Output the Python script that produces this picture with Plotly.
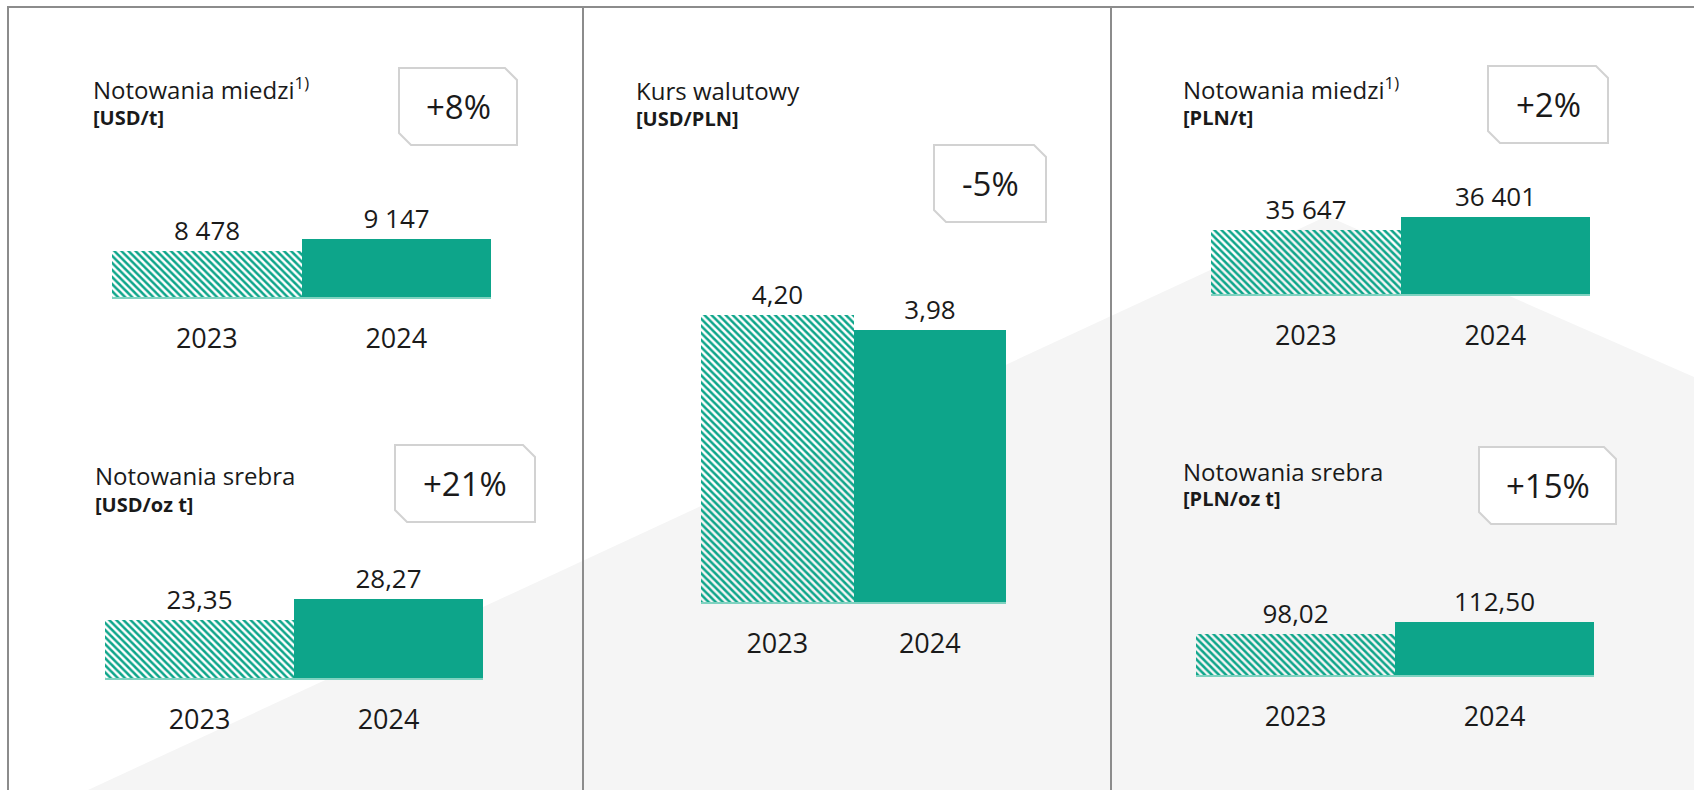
import plotly.graph_objects as go

W, H = 1694, 790

# ---------------- data ----------------
years = ["2023", "2024"]
copper_usd = [8478, 9147]
silver_usd = [23.35, 28.27]
usd_pln = [4.20, 3.98]
copper_pln = [35647, 36401]
silver_pln = [98.02, 112.50]

titles = ["Notowania miedzi<sup>1)</sup>", "Notowania srebra", "Kurs walutowy",
          "Notowania miedzi<sup>1)</sup>", "Notowania srebra"]
units = ["[USD/t]", "[USD/oz t]", "[USD/PLN]", "[PLN/t]", "[PLN/oz t]"]
changes = ["+8%", "+21%", "-5%", "+2%", "+15%"]
decimals = [0, 2, 2, 0, 2]
series = [copper_usd, silver_usd, usd_pln, copper_pln, silver_pln]

TEAL = "#0DA58A"
TXT = "#1a1a1a"
FONT = "Open Sans"


def fmt(v, d):
    if d == 0:
        return f"{v:,.0f}".replace(",", " ")
    return f"{v:.{d}f}".replace(".", ",")


def px(x):
    return x / W


def py(y):
    return 1 - y / H


# layout geometry (pixels): bar area, axis baseline value, scale px/unit, title pos, box
panels = [
    dict(x0=112, x1=491, bottom=297, top=185, k=0.01794, base=5914,
         tx=93, tb=100, ub=126, box=(399, 68, 517, 145)),
    dict(x0=105, x1=483, bottom=678, top=545, k=4.268, base=9.76,
         tx=95, tb=486, ub=513, box=(395, 445, 535, 522)),
    dict(x0=701, x1=1006, bottom=602, top=255, k=68.3, base=0,
         tx=636, tb=101, ub=127, box=(934, 145, 1046, 222)),
    dict(x0=1211, x1=1590, bottom=294, top=170, k=0.01724, base=31935,
         tx=1183, tb=100, ub=126, box=(1488, 66, 1608, 143)),
    dict(x0=1196, x1=1594, bottom=675, top=560, k=0.8287, base=48.5,
         tx=1183, tb=482, ub=507, box=(1479, 447, 1616, 524)),
]

fig = go.Figure()
shapes = []
annotations = []

# background grey "mountain"
shapes.append(dict(
    type="path", xref="paper", yref="paper", layer="below",
    path=f"M {px(88)},{py(790)} L {px(1327)},{py(216)} L {px(1694)},{py(377)} "
         f"L {px(1694)},{py(790)} Z",
    fillcolor="#f5f5f5", line=dict(width=0)))

# frame lines
LINE = dict(color="#8c8c8c", width=2)
shapes.append(dict(type="line", xref="paper", yref="paper", x0=px(7), x1=1,
                   y0=py(7), y1=py(7), line=LINE, layer="below"))
for xx in [8, 583, 1111]:
    shapes.append(dict(type="line", xref="paper", yref="paper", x0=px(xx), x1=px(xx),
                       y0=py(7), y1=0, line=LINE, layer="below"))

for i, (p, vals) in enumerate(zip(panels, series)):
    n = "" if i == 0 else str(i + 1)
    fig.add_trace(go.Bar(
        x=years, y=vals,
        text=[fmt(v, decimals[i]) for v in vals],
        textposition="outside",
        textfont=dict(family=FONT, size=26, color=TXT),
        marker=dict(
            color=[TEAL, TEAL],
            line=dict(width=0),
            pattern=dict(shape=["\\", ""], fgcolor=TEAL, bgcolor="white",
                         fgopacity=1, fillmode="replace",
                         size=5, solidity=0.5),
        ),
        xaxis="x" + n, yaxis="y" + n,
        showlegend=False, hoverinfo="skip",
    ))
    height_px = p["bottom"] - p["top"]
    fig.layout["xaxis" + n] = dict(
        domain=[px(p["x0"]), px(p["x1"])], anchor="y" + n,
        range=[-0.5, 1.5], showgrid=False, zeroline=False,
        showline=True, linecolor="#7fd2c0", linewidth=1.5,
        ticks="", ticklabelstandoff=17,
        tickfont=dict(family=FONT, size=27, color=TXT), fixedrange=True)
    fig.layout["yaxis" + n] = dict(
        domain=[py(p["bottom"]), py(p["top"])], anchor="x" + n,
        range=[p["base"], p["base"] + height_px / p["k"]],
        visible=False, fixedrange=True)

    # title and unit
    annotations.append(dict(
        xref="paper", yref="paper", x=px(p["tx"] - 2), y=py(p["tb"] + 0.293 * 24 + 1),
        xanchor="left", yanchor="bottom", text=titles[i], showarrow=False,
        font=dict(family=FONT, size=24, color=TXT), align="left"))
    annotations.append(dict(
        xref="paper", yref="paper", x=px(p["tx"] - 2), y=py(p["ub"] + 0.293 * 20 + 1),
        xanchor="left", yanchor="bottom", text=f"<b>{units[i]}</b>", showarrow=False,
        font=dict(family=FONT, size=20, color=TXT), align="left"))

    # change box with cut corners
    bx0, by0, bx1, by1 = p["box"]
    c = 12
    pts = [(bx0, by0), (bx1 - c, by0), (bx1, by0 + c), (bx1, by1), (bx0 + c, by1), (bx0, by1 - c)]
    path = "M " + " L ".join(f"{px(a)},{py(b)}" for a, b in pts) + " Z"
    shapes.append(dict(type="path", xref="paper", yref="paper", path=path,
                       fillcolor="white", line=dict(color="#d2d2d2", width=2)))
    annotations.append(dict(
        xref="paper", yref="paper", x=px((bx0 + bx1) / 2), y=py((by0 + by1) / 2),
        xanchor="center", yanchor="middle", text=changes[i], showarrow=False,
        font=dict(family=FONT, size=33, color=TXT)))

fig.update_layout(
    width=W, height=H,
    margin=dict(l=0, r=0, t=0, b=0),
    paper_bgcolor="white", plot_bgcolor="rgba(0,0,0,0)",
    bargap=0, shapes=shapes, annotations=annotations,
    font=dict(family=FONT, color=TXT),
)

fig.write_html("out.html",
               config={"displayModeBar": False},
               post_script="document.body.style.margin='0';"
                           "document.body.style.overflow='hidden';")
